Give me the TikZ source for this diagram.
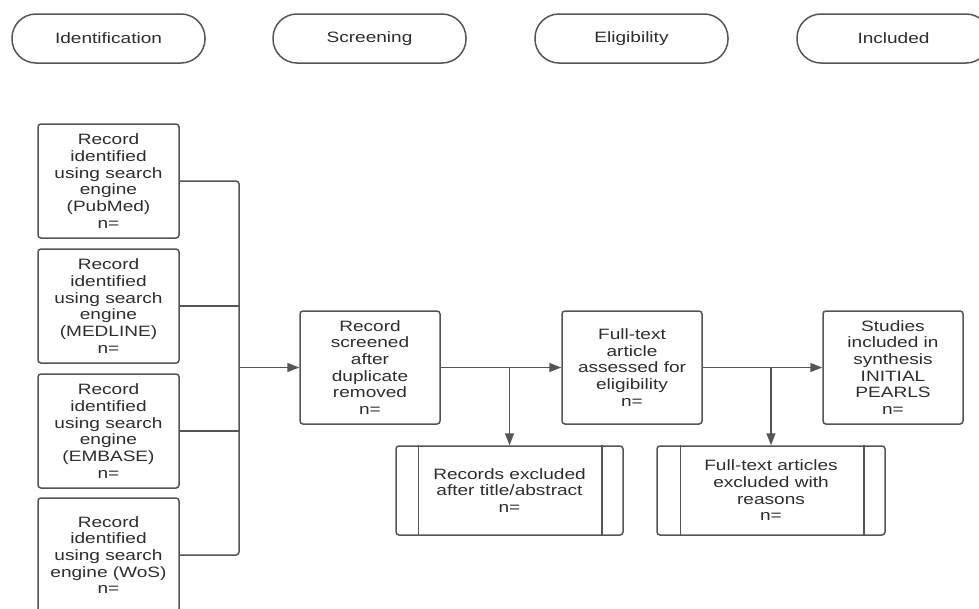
\documentclass[tikz,border=0pt]{standalone}
\usepackage{fontspec}
\setmainfont{Liberation Sans}[FakeStretch=1.27]
\usetikzlibrary{arrows.meta}
\definecolor{linec}{HTML}{555555}
\definecolor{textc}{HTML}{2E2E2E}
\begin{document}
\begin{tikzpicture}[x=1pt,y=-1pt,
  every node/.style={text=textc,font=\fontsize{15}{16.7}\selectfont,align=center,inner sep=0pt},
  pill/.style={draw=linec,line width=1.5pt,rounded corners=24pt,minimum width=193pt,minimum height=49pt},
  box/.style={draw=linec,line width=1.5pt,rounded corners=3pt,minimum width=141pt,minimum height=114pt},
  mbox/.style={draw=linec,line width=1.5pt,rounded corners=3pt,minimum width=140pt,minimum height=113pt},
  pbox/.style={draw=linec,line width=1.5pt,rounded corners=3pt,minimum height=89pt},
  conn/.style={draw=linec,line width=1.5pt,rounded corners=3pt},
  arr/.style={conn,-{Triangle[length=12pt,width=9pt]}}]
\useasboundingbox[fill=white] (0,0) rectangle (979,608);
% phase pills
\node[pill] (pid) at (108.5,38.5) {Identification};
\node[pill] (pscr) at (369.5,38.5) {Screening};
\node[pill] (pel) at (631.5,38.5) {Eligibility};
\node[pill] (pinc) at (893.5,38.5) {Included};
% identification boxes
\node[box] (b1) at (108.5,181) {Record\\identified\\using search\\engine\\(PubMed)\\n=};
\node[box] (b2) at (108.5,306) {Record\\identified\\using search\\engine\\(MEDLINE)\\n=};
\node[box] (b3) at (108.5,431) {Record\\identified\\using search\\engine\\(EMBASE)\\n=};
\node[box] (b4) at (108.5,555) {Record\\identified\\using search\\engine (WoS)\\n=};
% main boxes
\node[mbox] (scr) at (370,367.5) {Record\\screened\\after\\duplicate\\removed\\n=};
\node[mbox] (ft) at (632,367.5) {Full-text\\article\\assessed for\\eligibility\\n=};
\node[mbox] (st) at (893,367.5) {Studies\\included in\\synthesis\\INITIAL\\PEARLS\\n=};
% excluded boxes
\node[pbox,minimum width=227pt] (ex1) at (509.5,490.5) {Records excluded\\after title/abstract\\n=};
\node[pbox,minimum width=228pt] (ex2) at (771,490.5) {Full-text articles\\excluded with\\reasons\\n=};
\draw[linec,line width=1.5pt] ([xshift=23pt]ex1.north west) -- ([xshift=23pt]ex1.south west);
\draw[linec,line width=1.5pt] ([xshift=-22pt]ex1.north east) -- ([xshift=-22pt]ex1.south east);
\draw[linec,line width=1.5pt] ([xshift=24pt]ex2.north west) -- ([xshift=24pt]ex2.south west);
\draw[linec,line width=1.5pt] ([xshift=-22pt]ex2.north east) -- ([xshift=-22pt]ex2.south east);
% bus
\coordinate (busT) at (239,181);
\coordinate (busB) at (239,555);
\coordinate (bus2) at (239,306);
\coordinate (bus3) at (239,431);
\coordinate (busM) at (239,367.5);
\draw[conn] (b1.east) -- (busT) -- (busB) -- (b4.east);
\draw[conn] (b2.east) -- (bus2);
\draw[conn] (b3.east) -- (bus3);
\draw[arr] (busM) -- (scr.west);
% flow
\coordinate (br1) at (509.5,367.5);
\coordinate (br2) at (771,367.5);
\draw[arr] (scr.east) -- (ft.west);
\draw[arr] (br1) -- (ex1.north);
\draw[arr] (ft.east) -- (st.west);
\draw[arr] (br2) -- (ex2.north);
\end{tikzpicture}
\end{document}
